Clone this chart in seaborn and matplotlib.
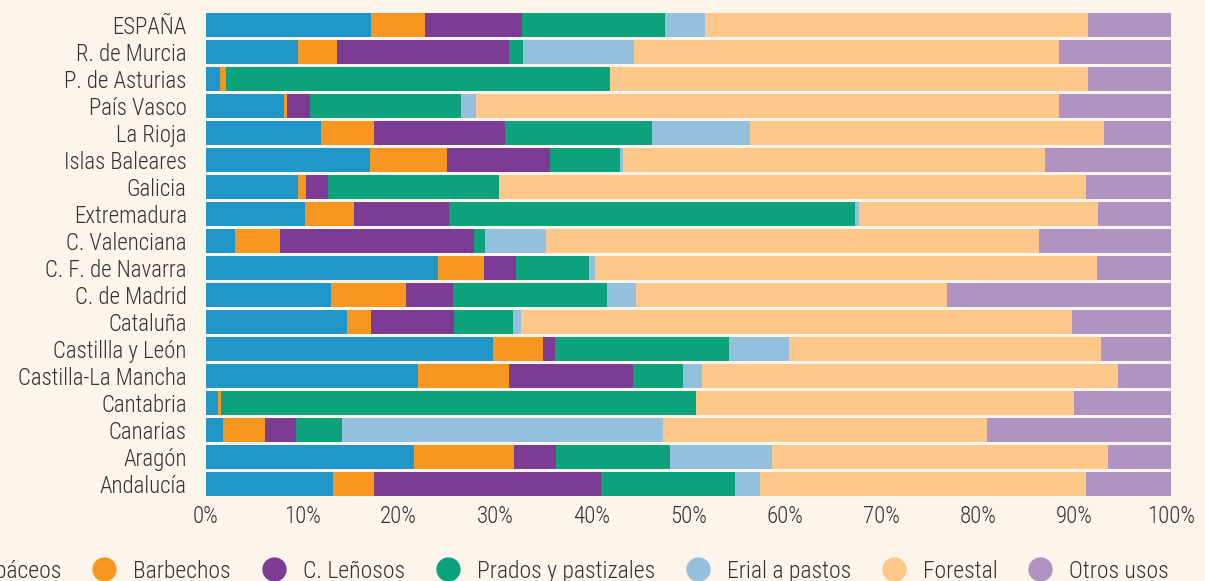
import matplotlib
matplotlib.use("Agg")
import matplotlib.pyplot as plt
from matplotlib.lines import Line2D
from matplotlib.ticker import FuncFormatter
import seaborn as sns
import pandas as pd
import numpy as np

regions = ["ESPAÑA", "R. de Murcia", "P. de Asturias", "País Vasco", "La Rioja",
           "Islas Baleares", "Galicia", "Extremadura", "C. Valenciana",
           "C. F. de Navarra", "C. de Madrid", "Cataluña", "Castillla y León",
           "Castilla-La Mancha", "Cantabria", "Canarias", "Aragón", "Andalucía"]

categories = ["C. Herbáceos", "Barbechos", "C. Leñosos", "Prados y pastizales",
              "Erial a pastos", "Forestal", "Otros usos"]

herbaceos = [17.1, 9.6, 1.5, 8.1, 12.0, 17.0, 9.55, 10.3, 3.1, 24.1, 13.0, 14.6, 29.7, 22.0, 1.3, 1.8, 21.6, 13.2]
barbechos = [5.6, 4.0, 0.6, 0.3, 5.4, 8.0, 0.9, 5.1, 4.6, 4.75, 7.8, 2.5, 5.2, 9.4, 0.3, 4.4, 10.35, 4.25]
lenosos = [10.0, 17.8, 0.0, 2.4, 13.6, 10.7, 2.2, 9.8, 20.1, 3.3, 4.8, 8.6, 1.2, 12.85, 0.0, 3.2, 4.35, 23.5]
prados = [14.8, 1.4, 39.75, 15.7, 15.2, 7.3, 17.7, 42.1, 1.1, 7.6, 16.0, 6.1, 18.0, 5.2, 49.2, 4.7, 11.8, 13.9]
erial = [4.15, 11.5, 0.0, 1.5, 10.2, 0.3, 0.0, 0.4, 6.4, 0.6, 3.0, 0.8, 6.2, 2.0, 0.0, 33.3, 10.6, 2.6]
forestal = [39.7, 43.9, 49.5, 60.4, 36.6, 43.7, 60.8, 24.8, 51.0, 52.0, 32.2, 57.0, 32.3, 43.1, 39.1, 33.5, 34.8, 33.8]
otros = [8.6, 11.6, 8.6, 11.6, 7.0, 13.1, 8.8, 7.6, 13.7, 7.7, 23.3, 10.3, 7.3, 5.5, 10.1, 19.1, 6.55, 8.8]

colors = ["#2196c8", "#f7971f", "#7c3c94", "#0ca27b", "#94c0de", "#fec88a", "#b092c3"]
bg = "#fdf5eb"
txt = "#333333"

series = [herbaceos, barbechos, lenosos, prados, erial, forestal, otros]
df = pd.DataFrame({c: s for c, s in zip(categories, series)}, index=regions)
# normalise rows to 100 %
df = df.div(df.sum(axis=1), axis=0) * 100
cum = df.cumsum(axis=1)

sns.set_style("white")
plt.rcParams["font.family"] = ["Roboto Condensed", "Roboto", "DejaVu Sans"]
plt.rcParams["font.weight"] = "light"

fig = plt.figure(figsize=(12.05, 5.81), dpi=100, facecolor=bg)
ax = fig.add_axes([205.5 / 1205, 1 - 497.5 / 581, (1171.4 - 205.5) / 1205, (497.5 - 11.5) / 581])
ax.set_facecolor(bg)

# draw cumulative bars from the widest to narrowest so they stack visually
for i in range(len(categories) - 1, -1, -1):
    d = pd.DataFrame({"region": regions, "value": cum.iloc[:, i].values})
    sns.barplot(data=d, x="value", y="region", order=regions, color=colors[i],
                saturation=1, width=0.89, linewidth=0, ax=ax, orient="h")

ax.set_xlim(0, 100)
ax.set_ylim(17.5, -0.5)
ax.set_xticks(np.arange(0, 101, 10))
ax.xaxis.set_major_formatter(FuncFormatter(lambda v, p: f"{int(v)}%"))
ax.set_xlabel("")
ax.set_ylabel("")
for s in ax.spines.values():
    s.set_visible(False)
ax.tick_params(axis="y", length=0, pad=13.5, labelsize=16.5, labelcolor=txt)
ax.tick_params(axis="x", length=0, pad=5.5, labelsize=16.5, labelcolor=txt)

handles = [Line2D([0], [0], marker="o", linestyle="", markersize=16.5,
                  markerfacecolor=c, markeredgecolor=c) for c in colors]
fig.legend(handles, categories, loc="center right", bbox_to_anchor=(1169 / 1205, 0.017),
           ncol=7, frameon=False, fontsize=17, labelcolor=txt,
           handlelength=1.0, handletextpad=0.73, columnspacing=1.31, borderpad=0,
           borderaxespad=0)

fig.savefig("out.png", dpi=100, facecolor=bg)
